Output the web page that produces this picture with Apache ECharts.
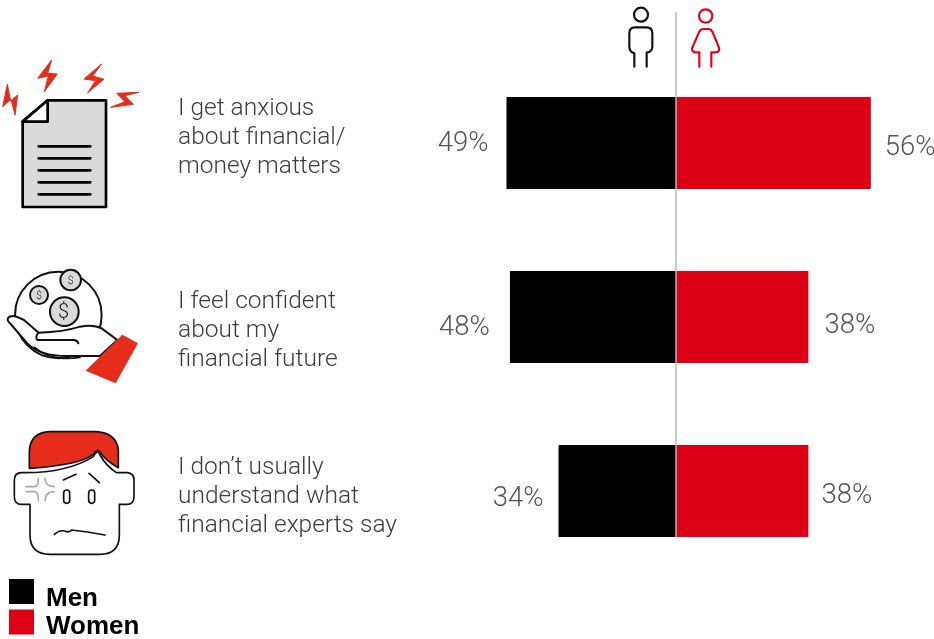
<!DOCTYPE html>
<html>
<head>
<meta charset="utf-8">
<style>html,body{margin:0;padding:0;background:#fff}#c{width:934px;height:639px}</style>
<script src="https://cdn.jsdelivr.net/npm/echarts@6/dist/echarts.min.js"></script>
</head>
<body>
<div id="c"></div>
<script>
var categories = ["I get anxious\nabout financial/\nmoney matters", "I feel confident\nabout my\nfinancial future", "I don\u2019t usually\nunderstand what\nfinancial experts say"];
var men = [49, 48, 34];
var women = [56, 38, 38];
var menLabelGap = [18, 20, 15];
var womenLabelGap = [14, 16, 13];
var menLabelDy = [1, 11, 8];
var womenLabelDy = [5, 9, 5];

var BLACK = '#000', RED = '#dc0014', ICONRED = '#e62d1c', GREY = '#d9dad9', TXT = '#555', CATTXT = '#3c3c3c';

function poly(pts, fill, lw) { return {type:'polygon', shape:{points:pts}, style:{fill:fill, stroke:lw?fill:null, lineWidth:lw||0, lineJoin:'round'}}; }
var shapeCount = 0;
function p(d, fill, stroke, lw) {
  var name = 'iconPath' + (shapeCount++);
  echarts.graphic.registerShape(name, echarts.graphic.extendPath(d, {}));
  return {type:name, style:{fill:fill||null, stroke:stroke||null, lineWidth:lw||6, lineCap:'round', lineJoin:'round'}};
}
function circ(cx, cy, r, fill, stroke, lw) {
  return {type:'circle', shape:{cx:cx, cy:cy, r:r}, style:{fill:fill||null, stroke:stroke||null, lineWidth:lw||6}};
}
function group(x, y, children) { return {type:'group', x:x, y:y, scaleX:1/3, scaleY:1/3, children:children}; }
function dollar(x, y, size) {
  return {type:'text', style:{x:x, y:y, text:'$', font:'300 '+size+'px Roboto', fill:'#222', align:'center', verticalAlign:'middle'}};
}

var docIcon = group(0, 50, [
  poly([[22,103],[8,170],[33,148],[45,195],[53,135],[32,153]], ICONRED, 3),
  poly([[155,30],[113,85],[145,78],[133,125],[172,72],[143,70]], ICONRED, 3),
  poly([[305,42],[252,87],[287,92],[263,128],[312,88],[278,78]], ICONRED, 3),
  poly([[417,127],[350,130],[375,155],[332,172],[400,163],[375,137]], ICONRED, 3),
  p('M143,151 L318,151 L318,471 L68,471 L68,214 Z', GREY, '#000', 8),
  p('M143,151 L143,215 L68,215 Z', '#fff', '#000', 8),
  p('M116,289 L271,289 M116,325 L271,325 M116,361 L271,361 M116,397 L271,397 M116,433 L271,433', null, '#000', 8)
]);

var handIcon = group(0, 260, [
  circ(175, 165, 130, '#fff', '#111', 6),
  circ(212, 60, 31, GREY, '#111', 6),
  dollar(212, 63, 34),
  circ(117, 105, 27, GREY, '#111', 6),
  dollar(117, 108, 32),
  circ(193, 155, 43, GREY, '#111', 6),
  dollar(191, 158, 60),
  p('M24,175 Q30,165 50,170 L72,180 L116,218 Q190,216 240,200 Q280,192 305,205 L352,240 L300,288 L200,288 Q120,288 82,250 L32,192 Q20,182 24,175 Z', '#fff', '#111', 6),
  p('M116,218 Q104,230 112,240 L222,240 Q234,242 235,250', null, '#111', 6),
  p('M104,262 Q150,305 240,292', null, '#111', 5),
  poly([[367,224],[414,250],[347,370],[257,332]], ICONRED)
]);

var faceIcon = group(0, 425, [
  p('M65,143 Q200,145 280,95 Q292,70 300,90 Q320,125 350,143 L382,143 Q402,145 402,165 L402,215 Q402,238 380,238 L358,238 L358,330 Q358,388 300,388 L150,388 Q90,388 90,330 L90,238 L65,238 Q43,238 43,215 L43,165 Q43,143 65,143 Z', '#fff', '#111', 5),
  p('M88,130 L88,80 Q90,22 150,20 L290,20 Q350,25 355,75 L355,128 Q320,110 300,82 Q293,68 280,88 Q240,120 88,130 Z', ICONRED, '#111', 5),
  p('M190,165 L228,148 M267,145 L298,173', null, '#111', 5),
  {type:'rect', shape:{x:191,y:195,width:18,height:40,r:9}, style:{fill:'#fff', stroke:'#111', lineWidth:5}},
  {type:'rect', shape:{x:266,y:195,width:18,height:40,r:9}, style:{fill:'#fff', stroke:'#111', lineWidth:5}},
  p('M163,328 Q180,312 200,320 Q210,322 215,315 Q260,320 315,330', null, '#111', 5),
  p('M78,185 L105,185 Q115,185 115,160 M135,160 Q135,185 163,185 M78,200 L105,200 Q115,200 115,228 M135,228 Q135,200 163,200', null, '#aaa', 5)
]);

var personIcons = group(610, 0, [
  circ(93, 44, 21, null, '#111', 6.5),
  p('M73,200 L73,160 Q58,155 58,140 L58,100 Q58,82 75,82 L110,82 Q127,82 127,100 L127,140 Q127,155 110,158 L110,200', null, '#111', 6.5),
  circ(287, 48, 20, null, '#e2001a', 6.5),
  p('M268,200 L268,157 L255,157 Q243,155 247,143 L268,95 Q272,87 280,87 L295,87 Q303,87 307,95 L327,143 Q330,155 318,157 L304,157 L304,200', null, '#e2001a', 6.5)
]);

var divider = {type:'line', z:50, shape:{x1:676, y1:12, x2:676, y2:537}, style:{stroke:'#b5b5b5', lineWidth:1.5}};

var chart = echarts.init(document.getElementById('c'), null, {renderer:'canvas'});
var labelBase = {show:true, color:TXT, fontFamily:'Roboto', fontWeight:300, fontSize:27.5};
var catText = {color:CATTXT, fontFamily:'Roboto', fontWeight:300, fontSize:24.5, lineHeight:29, align:'left'};

chart.setOption({
  animation:false,
  backgroundColor:'#fff',
  grid:{left:329.5, top:56, width:603.8, height:522, containLabel:false, outerBoundsMode:'none'},
  legend:{
    orient:'vertical', left:9, top:571.5, height:120, padding:0, itemWidth:25, itemHeight:25, itemGap:-7,
    icon:'rect', selectedMode:false,
    formatter:function(n){return (n==='Men'?'{s1| }':'{s2| }')+'\n{a|'+n+'}';},
    textStyle:{padding:[0,0,0,7],
      rich:{
        s1:{height:15, lineHeight:15, fontSize:1},
        s2:{height:9, lineHeight:9, fontSize:1},
        a:{fontFamily:'Liberation Sans', fontWeight:'bold', fontSize:26, lineHeight:25, color:'#000'}
      }},
    data:['Men','Women']
  },
  xAxis:{type:'value', min:-100, max:74, show:false},
  yAxis:{
    type:'category', inverse:true, data:categories,
    axisLine:{show:false}, axisTick:{show:false},
    axisLabel:{margin:151.5, align:'left',
      formatter:function(v,i){
        var body = v.split('\n').map(function(l){return '{t|'+l+'}';}).join('\n');
        return i===0 ? body+'\n{s0| }' : '{s'+i+'| }\n'+body;
      },
      rich:{
        t:catText,
        s0:{height:11, lineHeight:11, fontSize:1},
        s1:{height:28, lineHeight:28, fontSize:1},
        s2:{height:12, lineHeight:12, fontSize:1}
      }}
  },
  series:[
    {name:'Men', type:'bar', stack:'s', barWidth:92, itemStyle:{color:BLACK},
     data:men.map(function(v,i){return {value:-v, label:Object.assign({},labelBase,{position:'left', distance:menLabelGap[i], offset:[0,menLabelDy[i]], formatter:v+'%'})};})},
    {name:'Women', type:'bar', stack:'s', barWidth:92, itemStyle:{color:RED},
     data:women.map(function(v,i){return {value:v, label:Object.assign({},labelBase,{position:'right', distance:womenLabelGap[i], offset:[0,womenLabelDy[i]], formatter:v+'%'})};})}
  ],
  graphic:[docIcon, handIcon, faceIcon, personIcons, divider]
});
</script>
</body>
</html>
